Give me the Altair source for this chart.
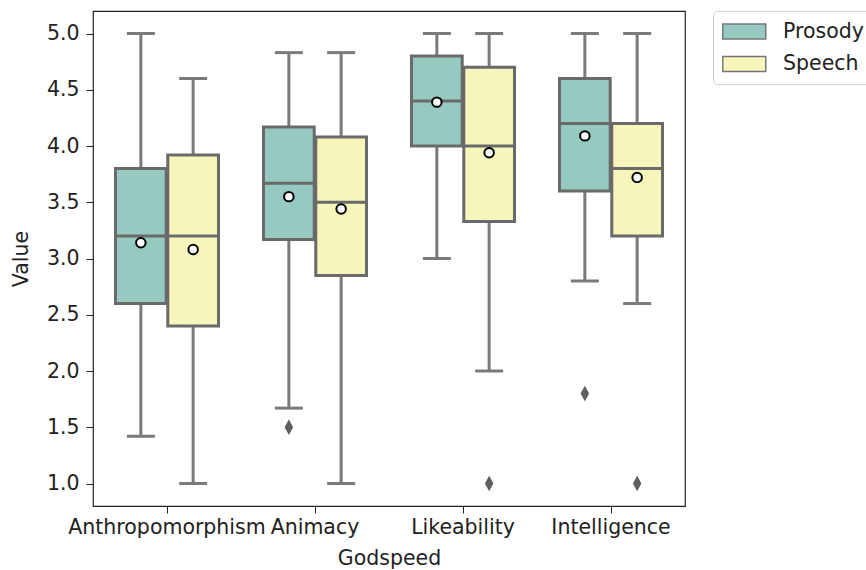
import altair as alt
import pandas as pd

categories = ["Anthropomorphism", "Animacy", "Likeability", "Intelligence"]
groups = ["Prosody", "Speech"]

# Prosody statistics
pro_low = [1.42, 1.67, 3.0, 2.8]
pro_q1 = [2.6, 3.17, 4.0, 3.6]
pro_med = [3.2, 3.67, 4.4, 4.2]
pro_q3 = [3.8, 4.17, 4.8, 4.6]
pro_high = [5.0, 4.83, 5.0, 5.0]
pro_mean = [3.14, 3.55, 4.39, 4.09]

# Speech statistics
spe_low = [1.0, 1.0, 2.0, 2.6]
spe_q1 = [2.4, 2.85, 3.33, 3.2]
spe_med = [3.2, 3.5, 4.0, 3.8]
spe_q3 = [3.92, 4.08, 4.7, 4.2]
spe_high = [4.6, 4.83, 5.0, 5.0]
spe_mean = [3.08, 3.44, 3.94, 3.72]

# Outliers
out_cat = ["Animacy", "Likeability", "Intelligence", "Intelligence"]
out_grp = ["Prosody", "Speech", "Prosody", "Speech"]
out_val = [1.5, 1.0, 1.8, 1.0]

rows = []
for i, c in enumerate(categories):
    rows.append(dict(cat=c, grp="Prosody", low=pro_low[i], q1=pro_q1[i], med=pro_med[i],
                     q3=pro_q3[i], high=pro_high[i], mean=pro_mean[i]))
    rows.append(dict(cat=c, grp="Speech", low=spe_low[i], q1=spe_q1[i], med=spe_med[i],
                     q3=spe_q3[i], high=spe_high[i], mean=spe_mean[i]))
stats = pd.DataFrame(rows)
outs = pd.DataFrame(dict(cat=out_cat, grp=out_grp, val=out_val))

FONT = "DejaVu Sans"
FS = 20.5
LINE = "#7a7a7a"
EDGE = "#6a6a6a"

xenc = alt.X("cat:N", sort=categories, title="Godspeed",
             scale=alt.Scale(paddingInner=0, paddingOuter=0),
             axis=alt.Axis(labelAngle=0, labelFontSize=FS, titleFontSize=FS,
                           labelFont=FONT, titleFont=FONT, titleFontWeight="normal",
                           tickSize=7, tickColor="#222", labelLimit=400,
                           labelColor="#222", titleColor="#222", domain=False,
                           labelPadding=4, titlePadding=11, labelBaseline="top"))
xoff = alt.XOffset("grp:N", sort=groups,
                   scale=alt.Scale(paddingInner=0.03, paddingOuter=0.43))
yscale = alt.Scale(domain=[0.8, 5.2], nice=False, zero=False)
yaxis = alt.Axis(values=[1.0, 1.5, 2.0, 2.5, 3.0, 3.5, 4.0, 4.5, 5.0], format=".1f",
                 labelFontSize=FS, titleFontSize=FS, labelFont=FONT, titleFont=FONT,
                 titleFontWeight="normal",
                 tickSize=7, tickColor="#222", labelColor="#222", titleColor="#222",
                 domain=False, grid=False, labelPadding=7, titlePadding=15)

color = alt.Color("grp:N", sort=groups, title=None,
                  scale=alt.Scale(domain=groups, range=["#96cac1", "#f6f6bc"]),
                  legend=alt.Legend(orient="none", legendX=620, legendY=0,
                                    symbolType="M-1,-0.7H3V0.7H-1Z", symbolSize=462,
                                    symbolStrokeColor="#777", symbolStrokeWidth=1.5,
                                    labelFontSize=FS, labelFont=FONT, labelColor="#222",
                                    labelOffset=38, rowPadding=9.5, padding=9,
                                    strokeColor="#d0d0d0", cornerRadius=4,
                                    fillColor="white"))

base = alt.Chart(stats)

whisk = base.mark_rule(color=LINE, strokeWidth=3).encode(
    x=xenc, xOffset=xoff, y=alt.Y("low:Q", scale=yscale, axis=yaxis, title="Value"), y2="high:Q")

cap_lo = base.mark_tick(color=LINE, size=28, thickness=3, opacity=1).encode(
    x=xenc, xOffset=xoff, y=alt.Y("low:Q", scale=yscale))
cap_hi = base.mark_tick(color=LINE, size=28, thickness=3, opacity=1).encode(
    x=xenc, xOffset=xoff, y=alt.Y("high:Q", scale=yscale))

box = base.mark_bar(stroke=EDGE, strokeWidth=3, opacity=1).encode(
    x=xenc, xOffset=xoff, y=alt.Y("q1:Q", scale=yscale), y2="q3:Q", color=color)

med = base.mark_tick(color=EDGE, size=50, thickness=3, opacity=1).encode(
    x=xenc, xOffset=xoff, y=alt.Y("med:Q", scale=yscale))

mean = base.mark_point(shape="circle", filled=True, fill="white", stroke="black",
                       strokeWidth=2, size=90, opacity=1).encode(
    x=xenc, xOffset=xoff, y=alt.Y("mean:Q", scale=yscale))

fliers = alt.Chart(outs).mark_point(shape="M0,-1L0.55,0L0,1L-0.55,0Z", filled=True,
                                    color="#5e5e5e", size=240, opacity=1).encode(
    x=xenc, xOffset=xoff, y=alt.Y("val:Q", scale=yscale))

chart = alt.layer(whisk, cap_lo, cap_hi, box, med, mean, fliers).properties(
    width=592, height=495,
    background="white",
    autosize=alt.AutoSizeParams(type="none"),
    padding={"left": 93, "top": 11, "right": 181, "bottom": 64},
).configure_view(stroke="#222", strokeWidth=1.2)

chart.save("out.html", embed_options={"renderer": "svg", "actions": False})
